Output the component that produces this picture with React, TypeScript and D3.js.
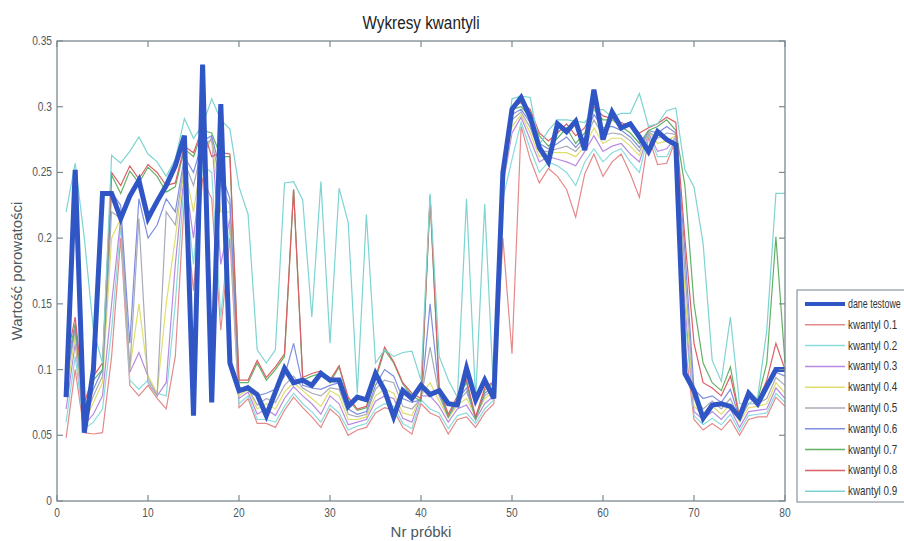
import React from "react";
import * as d3 from "d3";

const sampleNumbers: number[] = d3.range(1, 81);

const daneTestowe: number[] = [
  0.079, 0.252, 0.052, 0.1, 0.234, 0.234, 0.215, 0.232, 0.244, 0.215, 0.228, 0.24, 0.255, 0.278, 0.065, 0.332, 0.075, 0.302, 0.105,
  0.084, 0.086, 0.081, 0.065, 0.083, 0.101, 0.09, 0.092, 0.088, 0.097, 0.092, 0.092, 0.072, 0.079, 0.077, 0.097, 0.084, 0.064, 0.084, 0.078, 0.088, 0.081, 0.084, 0.074, 0.073, 0.101, 0.077, 0.092, 0.078,
  0.25, 0.298, 0.307, 0.292, 0.269, 0.258, 0.287, 0.281, 0.289, 0.267, 0.313, 0.275, 0.296, 0.284, 0.287, 0.277, 0.266, 0.281, 0.275, 0.271,
  0.097, 0.084, 0.063, 0.073, 0.074, 0.072, 0.064, 0.082, 0.074, 0.087, 0.1, 0.1,
];

const kwantyl01: number[] = [
  0.048, 0.1, 0.052, 0.051, 0.052, 0.11, 0.2, 0.088, 0.08, 0.088, 0.078, 0.07, 0.11, 0.23, 0.16, 0.245, 0.23, 0.13, 0.2,
  0.071, 0.078, 0.059, 0.059, 0.056, 0.069, 0.079, 0.071, 0.064, 0.056, 0.07, 0.064, 0.05, 0.054, 0.056, 0.067, 0.071, 0.069, 0.056, 0.051, 0.074, 0.067, 0.064, 0.051, 0.062, 0.064, 0.056, 0.067, 0.074,
  0.2, 0.112, 0.285, 0.26, 0.242, 0.253, 0.247, 0.237, 0.216, 0.249, 0.264, 0.247, 0.258, 0.264, 0.249, 0.231, 0.277, 0.256, 0.257, 0.275,
  0.12, 0.062, 0.054, 0.059, 0.054, 0.062, 0.05, 0.062, 0.064, 0.064, 0.079, 0.072,
];

const kwantyl02: number[] = [
  0.06, 0.11, 0.055, 0.06, 0.07, 0.13, 0.21, 0.092, 0.085, 0.092, 0.082, 0.08, 0.15, 0.245, 0.18, 0.255, 0.25, 0.14, 0.21,
  0.074, 0.08, 0.062, 0.062, 0.06, 0.072, 0.082, 0.074, 0.068, 0.06, 0.073, 0.067, 0.054, 0.057, 0.059, 0.07, 0.074, 0.072, 0.059, 0.055, 0.077, 0.07, 0.067, 0.055, 0.065, 0.067, 0.059, 0.07, 0.077,
  0.23, 0.26, 0.288, 0.268, 0.25, 0.258, 0.255, 0.25, 0.24, 0.258, 0.268, 0.258, 0.265, 0.268, 0.258, 0.25, 0.279, 0.262, 0.262, 0.276,
  0.14, 0.065, 0.058, 0.063, 0.058, 0.066, 0.053, 0.065, 0.066, 0.067, 0.082, 0.075,
];

const kwantyl03: number[] = [
  0.07, 0.12, 0.058, 0.066, 0.08, 0.15, 0.215, 0.098, 0.113, 0.095, 0.08, 0.09, 0.18, 0.25, 0.2, 0.262, 0.277, 0.18, 0.215,
  0.078, 0.083, 0.066, 0.07, 0.065, 0.078, 0.087, 0.08, 0.074, 0.066, 0.08, 0.074, 0.058, 0.06, 0.062, 0.076, 0.08, 0.078, 0.063, 0.06, 0.08, 0.08, 0.072, 0.06, 0.07, 0.073, 0.062, 0.074, 0.08,
  0.24, 0.28, 0.292, 0.275, 0.258, 0.262, 0.26, 0.258, 0.255, 0.266, 0.278, 0.266, 0.27, 0.272, 0.264, 0.258, 0.28, 0.266, 0.268, 0.277,
  0.15, 0.068, 0.062, 0.068, 0.062, 0.07, 0.056, 0.068, 0.069, 0.07, 0.086, 0.078,
];

const kwantyl04: number[] = [
  0.08, 0.125, 0.06, 0.075, 0.09, 0.2, 0.215, 0.1, 0.15, 0.095, 0.082, 0.15, 0.2, 0.255, 0.22, 0.266, 0.275, 0.22, 0.22,
  0.08, 0.085, 0.07, 0.074, 0.07, 0.083, 0.09, 0.084, 0.078, 0.072, 0.084, 0.08, 0.062, 0.062, 0.064, 0.08, 0.085, 0.082, 0.067, 0.065, 0.08, 0.09, 0.076, 0.063, 0.073, 0.078, 0.064, 0.078, 0.083,
  0.242, 0.285, 0.294, 0.28, 0.262, 0.265, 0.265, 0.265, 0.262, 0.27, 0.284, 0.272, 0.276, 0.276, 0.27, 0.263, 0.281, 0.272, 0.274, 0.278,
  0.16, 0.072, 0.066, 0.072, 0.066, 0.074, 0.06, 0.071, 0.072, 0.074, 0.09, 0.082,
];

const kwantyl05: number[] = [
  0.09, 0.13, 0.062, 0.08, 0.095, 0.22, 0.215, 0.1, 0.215, 0.09, 0.08, 0.22, 0.21, 0.258, 0.24, 0.27, 0.275, 0.24, 0.225,
  0.082, 0.086, 0.073, 0.078, 0.075, 0.088, 0.095, 0.086, 0.082, 0.08, 0.086, 0.085, 0.066, 0.064, 0.066, 0.085, 0.092, 0.09, 0.072, 0.07, 0.078, 0.117, 0.08, 0.064, 0.075, 0.083, 0.064, 0.08, 0.085,
  0.244, 0.29, 0.296, 0.284, 0.266, 0.266, 0.268, 0.27, 0.266, 0.274, 0.29, 0.278, 0.28, 0.279, 0.274, 0.266, 0.281, 0.276, 0.28, 0.279,
  0.175, 0.078, 0.07, 0.076, 0.07, 0.078, 0.062, 0.074, 0.074, 0.078, 0.094, 0.088,
];

const kwantyl06: number[] = [
  0.095, 0.132, 0.065, 0.085, 0.1, 0.235, 0.225, 0.12, 0.23, 0.2, 0.21, 0.23, 0.22, 0.262, 0.25, 0.274, 0.278, 0.25, 0.23,
  0.085, 0.088, 0.08, 0.082, 0.085, 0.095, 0.12, 0.088, 0.086, 0.085, 0.088, 0.09, 0.07, 0.066, 0.068, 0.088, 0.1, 0.095, 0.078, 0.075, 0.077, 0.15, 0.082, 0.064, 0.077, 0.086, 0.063, 0.082, 0.087,
  0.245, 0.294, 0.298, 0.288, 0.272, 0.268, 0.272, 0.277, 0.269, 0.277, 0.294, 0.284, 0.285, 0.282, 0.277, 0.269, 0.282, 0.28, 0.285, 0.28,
  0.19, 0.085, 0.078, 0.08, 0.075, 0.085, 0.063, 0.078, 0.075, 0.088, 0.098, 0.095,
];

const kwantyl07: number[] = [
  0.1, 0.135, 0.07, 0.092, 0.1, 0.248, 0.234, 0.251, 0.242, 0.254, 0.247, 0.235, 0.239, 0.268, 0.262, 0.282, 0.28, 0.262, 0.262,
  0.09, 0.09, 0.105, 0.092, 0.1, 0.11, 0.237, 0.092, 0.095, 0.097, 0.09, 0.102, 0.077, 0.069, 0.071, 0.092, 0.115, 0.105, 0.089, 0.08, 0.076, 0.23, 0.084, 0.064, 0.079, 0.09, 0.062, 0.084, 0.09,
  0.245, 0.298, 0.3, 0.292, 0.278, 0.27, 0.276, 0.284, 0.272, 0.28, 0.298, 0.29, 0.29, 0.285, 0.28, 0.272, 0.282, 0.285, 0.29, 0.282,
  0.24, 0.15, 0.105, 0.09, 0.084, 0.102, 0.064, 0.084, 0.077, 0.105, 0.201, 0.105,
];

const kwantyl08: number[] = [
  0.105, 0.14, 0.075, 0.095, 0.105, 0.25, 0.24, 0.255, 0.245, 0.256, 0.25, 0.24, 0.242, 0.27, 0.265, 0.284, 0.262, 0.265, 0.264,
  0.092, 0.092, 0.107, 0.094, 0.102, 0.112, 0.237, 0.094, 0.097, 0.099, 0.092, 0.103, 0.079, 0.07, 0.072, 0.094, 0.117, 0.106, 0.09, 0.082, 0.078, 0.232, 0.086, 0.066, 0.08, 0.092, 0.064, 0.086, 0.091,
  0.248, 0.3, 0.303, 0.298, 0.28, 0.274, 0.28, 0.287, 0.278, 0.284, 0.3, 0.293, 0.291, 0.288, 0.285, 0.28, 0.284, 0.287, 0.292, 0.288,
  0.2, 0.12, 0.09, 0.086, 0.08, 0.095, 0.064, 0.082, 0.076, 0.092, 0.12, 0.1,
];

const kwantyl09: number[] = [
  0.22, 0.257, 0.2, 0.13, 0.105, 0.263, 0.257, 0.266, 0.277, 0.264, 0.258, 0.247, 0.26, 0.291, 0.276, 0.286, 0.306, 0.29, 0.283,
  0.239, 0.218, 0.115, 0.105, 0.115, 0.242, 0.243, 0.229, 0.14, 0.243, 0.12, 0.238, 0.212, 0.082, 0.218, 0.105, 0.115, 0.11, 0.113, 0.114, 0.092, 0.234, 0.11, 0.092, 0.079, 0.23, 0.077, 0.226, 0.079,
  0.252, 0.306, 0.308, 0.307, 0.271, 0.282, 0.29, 0.29, 0.289, 0.288, 0.297, 0.298, 0.292, 0.295, 0.295, 0.31, 0.285, 0.287, 0.297, 0.299,
  0.252, 0.239, 0.196, 0.107, 0.091, 0.14, 0.074, 0.074, 0.079, 0.13, 0.234, 0.234,
];

const seriesNames: string[] = [
  "dane testowe",
  "kwantyl 0.1",
  "kwantyl 0.2",
  "kwantyl 0.3",
  "kwantyl 0.4",
  "kwantyl 0.5",
  "kwantyl 0.6",
  "kwantyl 0.7",
  "kwantyl 0.8",
  "kwantyl 0.9",
];

const xTicks: number[] = [0, 10, 20, 30, 40, 50, 60, 70, 80];
const yTicks: number[] = [0, 0.05, 0.1, 0.15, 0.2, 0.25, 0.3, 0.35];

const seriesValues: number[][] = [
  daneTestowe,
  kwantyl01,
  kwantyl02,
  kwantyl03,
  kwantyl04,
  kwantyl05,
  kwantyl06,
  kwantyl07,
  kwantyl08,
  kwantyl09,
];

const colors = [
  "#2f56c4",
  "#e58a8a",
  "#8adcdc",
  "#b98ae0",
  "#dede6e",
  "#a9abb8",
  "#7f8ee0",
  "#62b266",
  "#dd5f66",
  "#7dd4d2",
];

const W = 904;
const H = 541;
const L = 57;
const R = 785;
const T = 41;
const B = 501;

const FONT = "'Liberation Sans', Arial, sans-serif";

export default function App() {
  const x = d3.scaleLinear().domain([0, 80]).range([L, R]);
  const y = d3.scaleLinear().domain([0, 0.35]).range([B, T]);
  const line = d3
    .line<number>()
    .x((_, i) => x(sampleNumbers[i]))
    .y((d) => y(d));

  const axisColor = "#7b8a91";
  const labelColor = "#4d5860";

  const legendX = 797;
  const legendY0 = 304;
  const legendStep = 20.8;

  return (
    <svg
      width={W}
      height={H}
      style={{ position: "absolute", left: 0, top: 0, background: "#fff" }}
      fontFamily={FONT}
    >
      <rect x={0} y={0} width={W} height={H} fill="#fff" />
      <text
        transform={`translate(${(L + R) / 2}, 29) scale(0.9, 1.1)`}
        textAnchor="middle"
        fontSize={17}
        fill="#222"
      >
        Wykresy kwantyli
      </text>

      {/* quantile lines */}
      <g fill="none" strokeWidth={1.2}>
        {seriesValues.slice(1).map((vals, k) => (
          <path key={k} d={line(vals) || ""} stroke={colors[k + 1]} />
        ))}
      </g>
      <path d={line(daneTestowe) || ""} fill="none" stroke={colors[0]} strokeWidth={5} strokeLinejoin="miter" />

      {/* axes box */}
      <rect x={L} y={T} width={R - L} height={B - T} fill="none" stroke={axisColor} strokeWidth={1.3} />
      {xTicks.map((t) => (
        <g key={"x" + t}>
          <line x1={x(t)} x2={x(t)} y1={B} y2={B - 6} stroke={axisColor} strokeWidth={1.2} />
          <line x1={x(t)} x2={x(t)} y1={T} y2={T + 6} stroke={axisColor} strokeWidth={1.2} />
          <text
            transform={`translate(${x(t)}, ${B + 16}) scale(0.85, 1.05)`}
            textAnchor="middle"
            fontSize={12}
            fill={labelColor}
          >
            {t}
          </text>
        </g>
      ))}
      {yTicks.map((t) => (
        <g key={"y" + t}>
          <line x1={L} x2={L + 6} y1={y(t)} y2={y(t)} stroke={axisColor} strokeWidth={1.2} />
          <line x1={R} x2={R - 6} y1={y(t)} y2={y(t)} stroke={axisColor} strokeWidth={1.2} />
          <text
            transform={`translate(${L - 5}, ${y(t) + 4}) scale(0.85, 1.05)`}
            textAnchor="end"
            fontSize={12}
            fill={labelColor}
          >
            {String(+t.toFixed(2))}
          </text>
        </g>
      ))}
      <text x={(L + R) / 2} y={537} textAnchor="middle" fontSize={15} fill={labelColor}>
        Nr próbki
      </text>
      <text
        transform={`translate(22, ${(T + B) / 2}) rotate(-90)`}
        textAnchor="middle"
        fontSize={15}
        fill={labelColor}
      >
        Wartość porowatości
      </text>

      {/* legend */}
      <rect x={legendX} y={290} width={130} height={212} fill="#fff" stroke="#8a9599" strokeWidth={1.2} />
      {seriesNames.map((name, k) => {
        const yy = legendY0 + k * legendStep;
        return (
          <g key={name}>
            <line
              x1={805}
              x2={845}
              y1={yy}
              y2={yy}
              stroke={colors[k]}
              strokeWidth={k === 0 ? 4 : 1.5}
            />
            <text
              transform={`translate(848, ${yy + 4}) scale(${k === 0 ? 0.74 : 0.82}, 1.05)`}
              fontSize={12}
              fill="#333"
            >
              {name}
            </text>
          </g>
        );
      })}
    </svg>
  );
}
